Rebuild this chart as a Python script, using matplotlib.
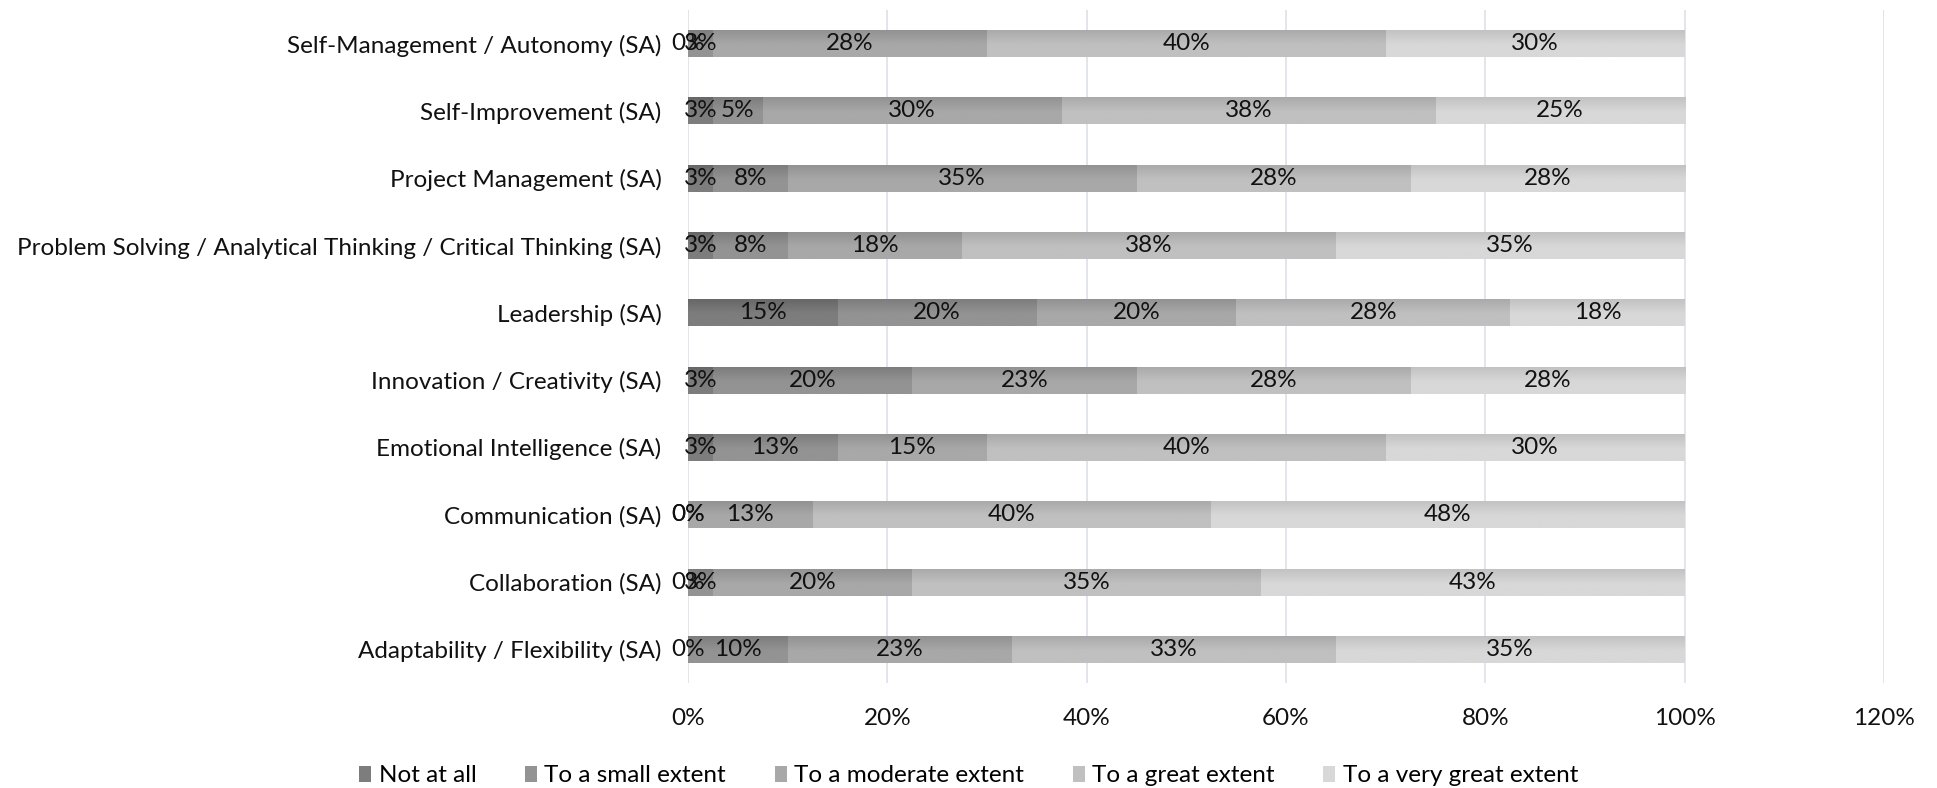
import matplotlib.pyplot as plt
import numpy as np
from matplotlib.colors import to_rgb

# survey categories, bottom to top as they appear on the y axis
skills = ['Adaptability / Flexibility (SA)', 'Collaboration (SA)', 'Communication (SA)',
          'Emotional Intelligence (SA)', 'Innovation / Creativity (SA)', 'Leadership (SA)',
          'Problem Solving / Analytical Thinking / Critical Thinking (SA)',
          'Project Management (SA)', 'Self-Improvement (SA)', 'Self-Management / Autonomy (SA)']

# share of respondents (%) per answer
not_at_all = [0, 0, 0, 2.5, 2.5, 15, 2.5, 2.5, 2.5, 0]
small_extent = [10, 2.5, 0, 12.5, 20, 20, 7.5, 7.5, 5, 2.5]
moderate_extent = [22.5, 20, 12.5, 15, 22.5, 20, 17.5, 35, 30, 27.5]
great_extent = [32.5, 35, 40, 40, 27.5, 27.5, 37.5, 27.5, 37.5, 40]
very_great_extent = [35, 42.5, 47.5, 30, 27.5, 17.5, 35, 27.5, 25, 30]

answers = ['Not at all', 'To a small extent', 'To a moderate extent',
           'To a great extent', 'To a very great extent']
colours = ['#7d7d7d', '#939393', '#a8a8a8', '#c0c0c0', '#d8d8d8']
xticks = [0, 20, 40, 60, 80, 100, 120]

plt.rcParams['font.family'] = ['Lato', 'DejaVu Sans']
fs = 17.5

fig = plt.figure(figsize=(19.37, 7.88), dpi=100)
ax = fig.add_axes([688 / 1937, 105 / 788, 1196 / 1937, 673 / 788])

series = [not_at_all, small_extent, moderate_extent, great_extent, very_great_extent]
y = np.arange(len(skills))
h = 0.4
left = np.zeros(len(skills))


def shade(c, t):
    # keep the upper part flat, darken towards the bottom edge
    k = 0 if t < 0.45 else (t - 0.45) / 0.55 * 0.085
    return np.clip(np.array(c) - k, 0, 1)


for vals, col, name in zip(series, colours, answers):
    vals = np.array(vals, dtype=float)
    bars = ax.barh(y, vals, h, left=left, color=col, label=name, linewidth=0)
    base = to_rgb(col)
    grad = np.array([[shade(base, t)] for t in np.linspace(0, 1, 40)])
    for b, v, l, yy in zip(bars, vals, left, y):
        if v > 0:
            im = ax.imshow(grad, extent=(l, l + v, yy + h / 2, yy - h / 2),
                           origin='upper', aspect='auto', zorder=2, interpolation='bilinear')
            im.set_clip_path(b)
        ax.text(l + v / 2, yy, f'{int(v + 0.5)}%', ha='center', va='center',
                fontsize=fs, color='#111111', zorder=4)
    left += vals

ax.set_xlim(0, 120)
ax.set_ylim(-0.5, len(skills) - 0.5)
ax.set_yticks(y)
ax.set_yticklabels(skills, fontsize=fs, color='#111111')
ax.set_xticks(xticks)
ax.set_xticklabels([f'{t}%' for t in xticks], fontsize=fs, color='#111111')
ax.tick_params(length=0)
ax.tick_params(axis='y', pad=19)
ax.tick_params(axis='x', pad=18)
ax.grid(axis='x', color='#dfe3eb', linewidth=1.3, zorder=0)
ax.set_axisbelow(True)
for s in ax.spines.values():
    s.set_visible(False)

fig.legend(loc='center', bbox_to_anchor=(0.5, 12 / 788), ncol=5, frameon=False,
           fontsize=fs, handlelength=0.5, handleheight=0.6, handletextpad=0.3,
           columnspacing=2.0)

fig.savefig('out.png', dpi=100)
